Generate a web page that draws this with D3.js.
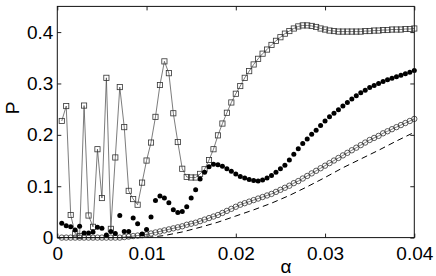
<!DOCTYPE html>
<html><head><meta charset="utf-8">
<script src="https://cdn.jsdelivr.net/npm/d3@7"></script>
<style>
html,body{margin:0;padding:0;background:#fff;}
svg text{font-family:"Liberation Sans",Arial,Helvetica,sans-serif;}
</style></head>
<body><svg id="c" width="436" height="276"></svg>
<script>
// α grid shared by the three marker series
const alpha = d3.range(1, 81).map(i => +(i * 0.0005).toFixed(4));

const squaresP = [0.227,0.256,0.044,0.008,0.003,0.257,0.043,0.021,0.172,0.077,
 0.311,0.017,0.156,0.293,0.215,0.091,0.075,0.064,0.107,0.150,
 0.185,0.235,0.297,0.343,0.320,0.242,0.186,0.134,0.118,0.117,
 0.117,0.124,0.133,0.151,0.172,0.199,0.222,0.243,0.263,0.280,
 0.295,0.311,0.324,0.337,0.348,0.358,0.366,0.375,0.383,0.390,
 0.397,0.402,0.407,0.411,0.413,0.413,0.412,0.410,0.407,0.405,
 0.403,0.402,0.401,0.401,0.401,0.401,0.401,0.401,0.402,0.402,
 0.403,0.403,0.404,0.404,0.405,0.405,0.405,0.406,0.406,0.407];

const filledP = [0.028,0.023,0.021,0.015,0.022,0.009,0.009,0.011,0.020,0.018,
 0.005,0.012,0.008,0.043,0.012,0.012,0.038,0.027,0.007,0.016,
 0.040,0.072,0.081,0.077,0.068,0.054,0.049,0.051,0.060,0.077,
 0.093,0.114,0.127,0.138,0.143,0.142,0.139,0.134,0.129,0.124,
 0.119,0.116,0.113,0.111,0.110,0.112,0.116,0.121,0.127,0.134,
 0.141,0.151,0.162,0.173,0.183,0.192,0.201,0.209,0.218,0.227,
 0.235,0.242,0.249,0.256,0.263,0.270,0.276,0.282,0.287,0.292,
 0.296,0.300,0.304,0.307,0.310,0.313,0.316,0.319,0.322,0.325];

const openP = [0,0,0,0,0,0,0,0,0,0,
 0,0,0,0,0.001,0.002,0.003,0.004,0.005,
 0.006,0.008,0.010,0.012,0.014,0.016,0.018,0.020,0.022,0.025,
 0.027,0.029,0.032,0.035,0.038,0.041,0.044,0.048,0.052,0.056,
 0.060,0.064,0.067,0.070,0.073,0.076,0.079,0.082,0.085,0.089,
 0.093,0.097,0.101,0.106,0.110,0.115,0.120,0.125,0.130,0.135,
 0.140,0.145,0.150,0.155,0.160,0.165,0.170,0.175,0.180,0.185,
 0.190,0.194,0.198,0.203,0.207,0.211,0.215,0.219,0.223,0.227,
 0.231];

const dashAlpha = [0,0.010,0.012,0.014,0.016,0.018,0.020,0.022,0.024,0.026,0.028,0.030,0.032,0.034,0.036,0.038,0.040];
const dashP     = [0,0,0.004,0.011,0.020,0.030,0.042,0.054,0.067,0.082,0.099,0.117,0.136,0.153,0.170,0.188,0.205];

const xTicks = [0,0.01,0.02,0.03,0.04];
const xTickLabels = ["0","0.01","0.02","0.03","0.04"];
const yTicks = [0,0.1,0.2,0.3,0.4];
const yTickLabels = ["0","0.1","0.2","0.3","0.4"];
const xLabel = "α", yLabel = "P";

const L = 57.3, R = 414.3, T = 6.4, B = 237.6;
const x = d3.scaleLinear().domain([0,0.04]).range([L,R]);
const y = d3.scaleLinear().domain([0,0.45]).range([B,T]);

const svg = d3.select("#c");
const FS = "19px";

// axes
const gx = svg.append("g").attr("transform",`translate(0,${B})`)
 .call(d3.axisBottom(x).tickValues(xTicks).tickFormat((d,i)=>xTickLabels[i]).tickSizeInner(-4).tickSizeOuter(0).tickPadding(9));
const gy = svg.append("g").attr("transform",`translate(${L},0)`)
 .call(d3.axisLeft(y).tickValues(yTicks).tickFormat((d,i)=>yTickLabels[i]).tickSizeInner(-4).tickSizeOuter(0).tickPadding(4));
const gt = svg.append("g").attr("transform",`translate(0,${T})`)
 .call(d3.axisTop(x).tickValues(xTicks).tickFormat("").tickSizeInner(-4).tickSizeOuter(0));
const gr = svg.append("g").attr("transform",`translate(${R},0)`)
 .call(d3.axisRight(y).tickValues(yTicks).tickFormat("").tickSizeInner(-4).tickSizeOuter(0));
[gx,gy,gt,gr].forEach(g=>{
  g.selectAll(".domain").remove();
  g.selectAll("line").attr("stroke","#222");
  g.selectAll("text").attr("font-size",FS).attr("fill","#000").style("font-family",'"Liberation Sans",Arial,sans-serif');
});

svg.append("text").attr("x",286).attr("y",273).attr("text-anchor","middle")
  .attr("font-size",FS).text(xLabel);
svg.append("text").attr("transform","translate(19,108) rotate(-90)").attr("text-anchor","middle")
  .attr("font-size",FS).text(yLabel);

// dashed curve
svg.append("path").datum(dashAlpha.map((a,i)=>[a,dashP[i]]))
  .attr("fill","none").attr("stroke","#000").attr("stroke-width",1)
  .attr("stroke-dasharray","6,4")
  .attr("d", d3.line().x(d=>x(d[0])).y(d=>y(d[1])));

// open circles
const openData = alpha.map((a,i)=>[a,openP[i]]);
svg.append("path").datum(openData).attr("fill","none").attr("stroke","#444").attr("stroke-width",0.7)
  .attr("d", d3.line().x(d=>x(d[0])).y(d=>y(d[1])));
svg.append("g").selectAll("circle").data(openData).join("circle")
  .attr("cx",d=>x(d[0])).attr("cy",d=>y(d[1])).attr("r",2.7)
  .attr("fill","none").attr("stroke","#333").attr("stroke-width",0.8);

// squares
const sqData = alpha.map((a,i)=>[a,squaresP[i]]);
svg.append("path").datum(sqData).attr("fill","none").attr("stroke","#444").attr("stroke-width",0.7)
  .attr("d", d3.line().x(d=>x(d[0])).y(d=>y(d[1])));
svg.append("g").selectAll("rect").data(sqData).join("rect")
  .attr("x",d=>x(d[0])-2.6).attr("y",d=>y(d[1])-2.6).attr("width",5.2).attr("height",5.2)
  .attr("fill","none").attr("stroke","#333").attr("stroke-width",0.8);

// filled circles
svg.append("g").selectAll("circle").data(alpha.map((a,i)=>[a,filledP[i]])).join("circle")
  .attr("cx",d=>x(d[0])).attr("cy",d=>y(d[1])).attr("r",2.5).attr("fill","#000");

// frame
svg.append("rect").attr("x",L).attr("y",T).attr("width",R-L).attr("height",B-T)
  .attr("fill","none").attr("stroke","#111").attr("stroke-width",1);
</script></body></html>
